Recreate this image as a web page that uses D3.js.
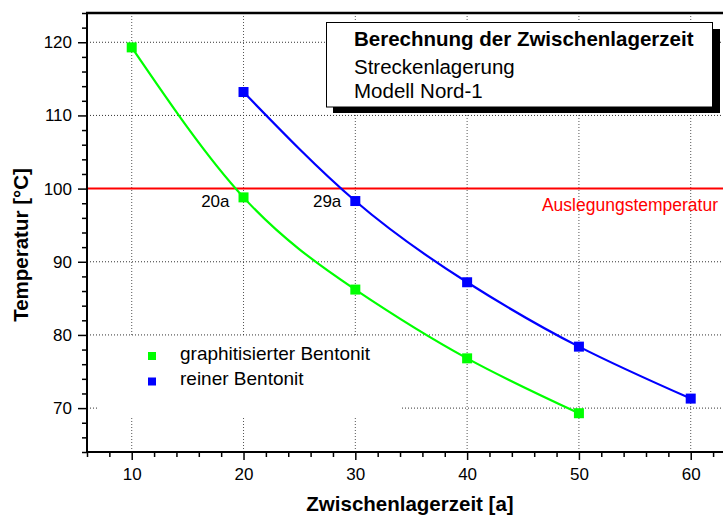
<!DOCTYPE html>
<html>
<head>
<meta charset="utf-8">
<script src="https://cdn.jsdelivr.net/npm/d3@7"></script>
<style>
  html, body { margin: 0; padding: 0; background: #fff; }
  svg { display: block; font-family: Arial, "Liberation Sans", sans-serif; }
</style>
</head>
<body>
<svg id="chart" width="723" height="518"></svg>
<script>
// ---- data ----
const xTicks = [10, 20, 30, 40, 50, 60];
const yTicks = [70, 80, 90, 100, 110, 120];
const greenX = [10, 20, 30, 40, 50];
const greenY = [119.3, 98.8, 86.2, 76.8, 69.3];
const blueX = [20, 30, 40, 50, 60];
const blueY = [113.2, 98.3, 87.2, 78.4, 71.3];
const seriesNames = ["graphitisierter Bentonit", "reiner Bentonit"];
const seriesColors = ["#00ff00", "#0000ff"];
const designTemp = 100;
const designLabel = "Auslegungstemperatur";
const crossLabels = ["20a", "29a"];
const crossAt = [20, 30];
const titleLines = ["Berechnung der Zwischenlagerzeit", "Streckenlagerung", "Modell Nord-1"];
const xTitle = "Zwischenlagerzeit [a]";
const yTitle = "Temperatur [°C]";

// ---- layout ----
const svg = d3.select("#chart");
const pLeft = 87, pTop = 13, pBottom = 452;
const x = d3.scaleLinear().domain([6, 64]).range([pLeft, pLeft + 58 * 11.18]);
const y = d3.scaleLinear().domain([64, 124]).range([pBottom, pTop]);
const W = 723;

// grid
const grid = svg.append("g");
grid.selectAll("line.v").data(xTicks).enter().append("line")
  .attr("x1", d => x(d)).attr("x2", d => x(d)).attr("y1", pTop).attr("y2", pBottom)
  .attr("stroke", "#555").attr("stroke-width", 1).attr("stroke-dasharray", "1,2");
grid.selectAll("line.h").data(yTicks.filter(d => d !== designTemp)).enter().append("line")
  .attr("x1", pLeft).attr("x2", W).attr("y1", d => y(d)).attr("y2", d => y(d))
  .attr("stroke", "#333").attr("stroke-width", 1).attr("stroke-dasharray", "1,2");

// legend background (covers grid)
svg.append("rect").attr("x", 98).attr("y", 337).attr("width", 304).attr("height", 81).attr("fill", "#fff");

// design temperature line
svg.append("line").attr("x1", pLeft).attr("x2", W).attr("y1", y(designTemp)).attr("y2", y(designTemp))
  .attr("stroke", "#ff0000").attr("stroke-width", 2);
svg.append("text").attr("x", 718).attr("y", y(designTemp) + 22).attr("text-anchor", "end")
  .attr("fill", "#ff0000").attr("font-size", 17.5).text(designLabel);

// curves
const line = d3.line().x(d => x(d[0])).y(d => y(d[1])).curve(d3.curveNatural);
const series = [d3.zip(greenX, greenY), d3.zip(blueX, blueY)];
series.forEach((pts, i) => {
  svg.append("path").datum(pts).attr("d", line).attr("fill", "none")
    .attr("stroke", seriesColors[i]).attr("stroke-width", 2.2);
});
series.forEach((pts, i) => {
  svg.selectAll(null).data(pts).enter().append("rect")
    .attr("x", d => x(d[0]) - 5).attr("y", d => y(d[1]) - 5)
    .attr("width", 10).attr("height", 10).attr("fill", seriesColors[i]);
});

// crossing labels
crossLabels.forEach((t, i) => {
  svg.append("text").attr("x", x(crossAt[i]) - 14).attr("y", y(designTemp) + 18.5)
    .attr("text-anchor", "end").attr("font-size", 17).attr("fill", "#000").text(t);
});

// legend
seriesNames.forEach((n, i) => {
  svg.append("rect").attr("x", 148).attr("y", 352 + i * 25.5).attr("width", 8).attr("height", 8)
    .attr("fill", seriesColors[i]);
  svg.append("text").attr("x", 180).attr("y", 359.5 + i * 25.5).attr("font-size", 19).text(n);
});

// title box
svg.append("rect").attr("x", 333).attr("y", 29).attr("width", 387).attr("height", 84).attr("fill", "#000");
svg.append("rect").attr("x", 326.5).attr("y", 22.5).attr("width", 386).attr("height", 84.5)
  .attr("fill", "#fff").attr("stroke", "#000").attr("stroke-width", 1);
const tb = [46, 73.5, 98];
titleLines.forEach((t, i) => {
  svg.append("text").attr("x", 354).attr("y", tb[i]).attr("font-size", 20.5)
    .attr("font-weight", i === 0 ? "bold" : "normal").text(t);
});

// axes
const xMinor = d3.range(6, 65, 2).filter(d => d % 10 !== 0);
const yMinor = d3.range(64, 125, 2).filter(d => d % 10 !== 0);
const axX = svg.append("g").attr("transform", `translate(0,${pBottom})`)
  .call(d3.axisBottom(x).tickValues(xTicks).tickSize(8).tickPadding(8).tickFormat(d3.format("d")));
const axXm = svg.append("g").attr("transform", `translate(0,${pBottom})`)
  .call(d3.axisBottom(x).tickValues(xMinor).tickSize(5).tickFormat(""));
const axY = svg.append("g").attr("transform", `translate(${pLeft},0)`)
  .call(d3.axisLeft(y).tickValues(yTicks).tickSize(9).tickPadding(6).tickFormat(d3.format("d")));
const axYm = svg.append("g").attr("transform", `translate(${pLeft},0)`)
  .call(d3.axisLeft(y).tickValues(yMinor).tickSize(5).tickFormat(""));
[axX, axXm, axY, axYm].forEach(g => {
  g.select(".domain").remove();
  g.selectAll(".tick line").attr("stroke", "#000").attr("stroke-width", 1.5);
  g.selectAll(".tick text").attr("font-size", 17).attr("fill", "#000")
    .attr("font-family", "Arial, 'Liberation Sans', sans-serif");
});

// axis lines
svg.append("line").attr("x1", pLeft).attr("x2", pLeft).attr("y1", pTop - 1).attr("y2", pBottom + 1)
  .attr("stroke", "#000").attr("stroke-width", 2);
svg.append("line").attr("x1", pLeft - 1).attr("x2", W).attr("y1", pBottom).attr("y2", pBottom)
  .attr("stroke", "#000").attr("stroke-width", 2);
svg.append("line").attr("x1", pLeft - 1).attr("x2", W).attr("y1", pTop).attr("y2", pTop)
  .attr("stroke", "#000").attr("stroke-width", 2.5);

// axis titles
svg.append("text").attr("x", 410).attr("y", 511).attr("text-anchor", "middle")
  .attr("font-size", 20.5).attr("font-weight", "bold").text(xTitle);
svg.append("text").attr("transform", `translate(28,245) rotate(-90)`)
  .attr("text-anchor", "middle").attr("font-size", 20.5).attr("font-weight", "bold").text(yTitle);
</script>
</body>
</html>
